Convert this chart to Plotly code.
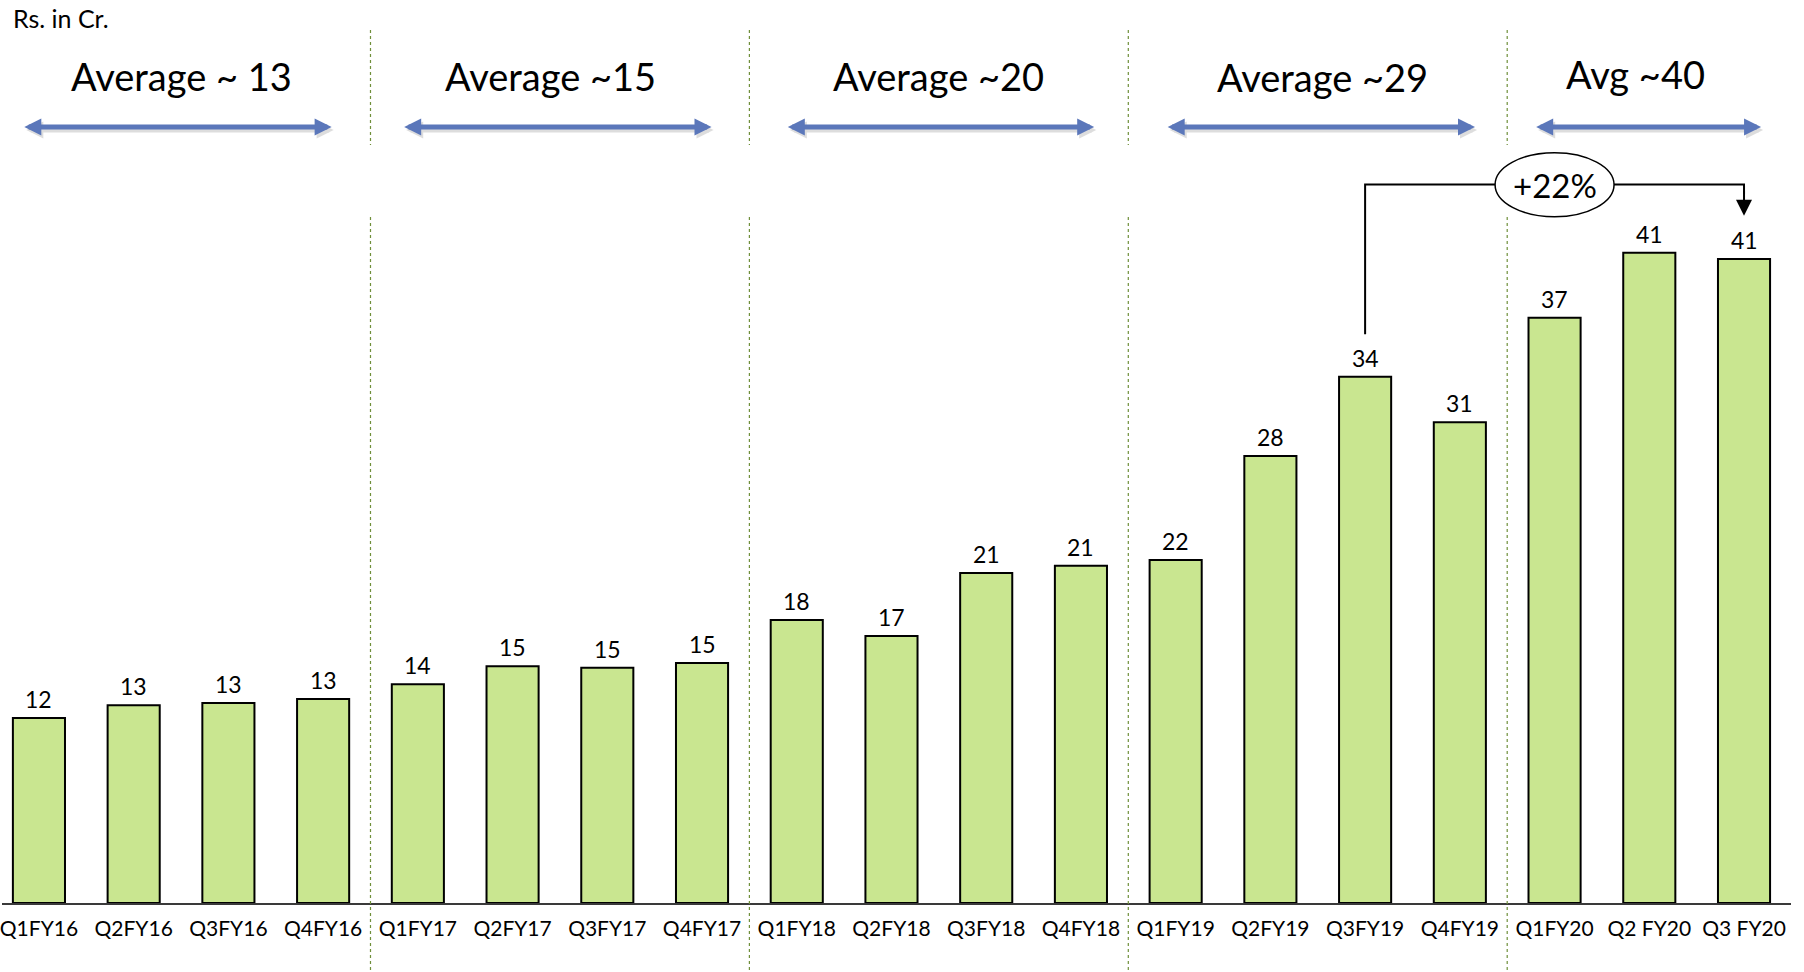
import plotly.graph_objects as go

# Quarterly figures (Rs. in Cr.)
quarters = ["Q1FY16", "Q2FY16", "Q3FY16", "Q4FY16",
            "Q1FY17", "Q2FY17", "Q3FY17", "Q4FY17",
            "Q1FY18", "Q2FY18", "Q3FY18", "Q4FY18",
            "Q1FY19", "Q2FY19", "Q3FY19", "Q4FY19",
            "Q1FY20", "Q2 FY20", "Q3 FY20"]
values = [11.78, 12.59, 12.74, 12.99,
          13.93, 15.08, 14.99, 15.29,
          18.03, 17.01, 21.02, 21.48,
          21.85, 28.47, 33.52, 30.62,
          37.28, 41.42, 41.02]

# Yearly groups and their average labels
group_labels = ["Average ~ 13", "Average ~15", "Average ~20", "Average ~29", "Avg ~40"]
group_first = [0, 4, 8, 12, 16]
group_last = [3, 7, 11, 15, 18]

growth_label = "+22%"
growth_from = 14   # Q3FY19
growth_to = 18     # Q3 FY20

FONT = "Lato"
W, H = 1804, 972
PLOT_BOTTOM = 903          # pixel row of the baseline
PX_PER_UNIT = 15.7
Y_MAX = PLOT_BOTTOM / PX_PER_UNIT


def paper_y(px):
    """Pixel row -> paper y for the plot area (top 0, bottom PLOT_BOTTOM)."""
    return (PLOT_BOTTOM - px) / PLOT_BOTTOM


def data_y(px):
    return (PLOT_BOTTOM - px) / PX_PER_UNIT


fig = go.Figure()
fig.add_trace(go.Bar(
    x=quarters, y=values,
    width=0.55,
    marker=dict(color="#C9E690", line=dict(color="#000000", width=2)),
    hoverinfo="skip",
))

shapes = []
annotations = []

# Value labels above each bar
for q, v in zip(quarters, values):
    annotations.append(dict(x=q, y=v, xref="x", yref="y", text=f"{v:.0f}",
                            showarrow=False, xanchor="center", yanchor="bottom", yshift=3,
                            font=dict(family=FONT, size=23, color="#000000")))

# Dotted separators between the years (broken around the arrows)
sep_color = "#6F8F3A"
for g in range(1, len(group_first)):
    xs = group_first[g] - 0.5
    for top, bot in ((30, 145), (217, 972)):
        shapes.append(dict(type="line", xref="x", yref="paper",
                           x0=xs, x1=xs, y0=paper_y(top), y1=paper_y(bot),
                           line=dict(color=sep_color, width=1.2, dash="dot")))

# Average labels and double-headed arrows spanning each year
label_dx = [0.0, -0.1, 0.0, 0.05, -0.15]
arrow_pad = [(-0.17, 0.09), (-0.16, 0.10), (-0.11, 0.14), (-0.10, 0.16), (-0.21, 0.18)]
label_py = [76, 76, 76, 77, 74]
arrow_y = data_y(127)
for g, lab in enumerate(group_labels):
    center = (group_first[g] + group_last[g]) / 2
    annotations.append(dict(x=center + label_dx[g], y=paper_y(label_py[g]), xref="x", yref="paper",
                            text=lab, showarrow=False, xanchor="center", yanchor="middle",
                            font=dict(family=FONT, size=38, color="#000000")))
    x0 = group_first[g] + arrow_pad[g][0]
    x1 = group_last[g] + arrow_pad[g][1]
    # soft shadow under the arrow
    annotations.append(dict(x=x1, y=arrow_y, ax=x0, ay=arrow_y, xref="x", yref="y",
                            axref="x", ayref="y", text="", showarrow=True,
                            arrowside="end+start", arrowhead=2, startarrowhead=2,
                            arrowsize=0.68, startarrowsize=0.68, arrowwidth=5,
                            arrowcolor="rgba(0,0,0,0.13)", xshift=2, yshift=-3))
    annotations.append(dict(x=x1, y=arrow_y, ax=x0, ay=arrow_y, xref="x", yref="y",
                            axref="x", ayref="y", text="", showarrow=True,
                            arrowside="end+start", arrowhead=2, startarrowhead=2,
                            arrowsize=0.68, startarrowsize=0.68, arrowwidth=5,
                            arrowcolor="#5B77BA"))

# Growth connector from Q3FY19 to Q3 FY20
conn_top = data_y(184.5)
conn_start = values[growth_from] + 2.7
conn_tip = values[growth_to] + 2.75
shapes.append(dict(type="path", xref="x", yref="y",
                   path=f"M {growth_from},{conn_start} L {growth_from},{conn_top} L {growth_to},{conn_top} L {growth_to},{conn_top - 0.6}",
                   line=dict(color="#000000", width=2)))
annotations.append(dict(x=growth_to, y=conn_tip, ax=growth_to, ay=conn_top - 0.3,
                        xref="x", yref="y", axref="x", ayref="y", text="",
                        showarrow=True, arrowhead=2, arrowsize=1.6, arrowwidth=2,
                        arrowcolor="#000000"))
ell_cx = 16.0
ell_cy = data_y(184.7)
shapes.append(dict(type="circle", xref="x", yref="y",
                   x0=ell_cx - 0.628, x1=ell_cx + 0.628,
                   y0=ell_cy - 2.04, y1=ell_cy + 2.04,
                   fillcolor="#FFFFFF", line=dict(color="#000000", width=1.5)))
annotations.append(dict(x=ell_cx, y=ell_cy, xref="x", yref="y", text=growth_label,
                        showarrow=False, xanchor="center", yanchor="middle",
                        font=dict(family=FONT, size=33, color="#000000")))

# Unit caption
annotations.append(dict(x=9 / W, y=paper_y(18), xref="paper", yref="paper",
                        text="Rs. in Cr.", showarrow=False, xanchor="left", yanchor="middle",
                        font=dict(family=FONT, size=25, color="#000000")))

fig.update_layout(
    width=W, height=H,
    margin=dict(l=0, r=13, t=0, b=H - PLOT_BOTTOM),
    paper_bgcolor="#FFFFFF", plot_bgcolor="#FFFFFF",
    showlegend=False,
    shapes=shapes, annotations=annotations,
    xaxis=dict(type="category", range=[-0.39, 18.496], showgrid=False, zeroline=False,
               showline=True, linecolor="#3A3A3A", linewidth=2, ticks="",
               tickfont=dict(family=FONT, size=21, color="#000000"), ticklabelstandoff=6),
    yaxis=dict(range=[0, Y_MAX], visible=False, showgrid=False, zeroline=False),
    font=dict(family=FONT),
)

fig.write_html("out.html")
